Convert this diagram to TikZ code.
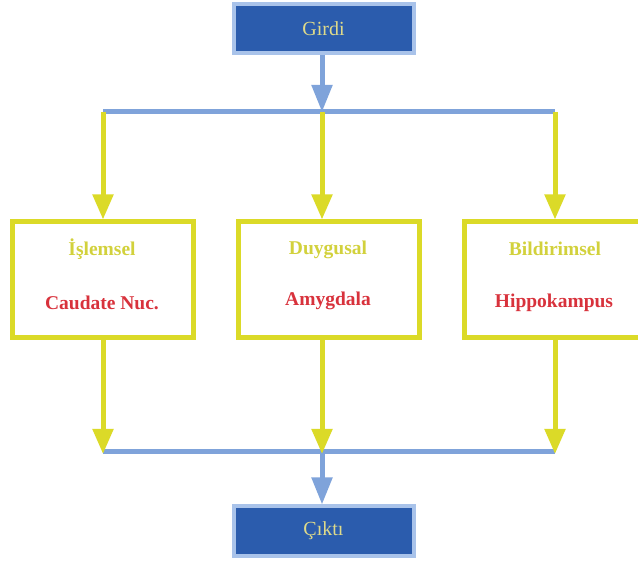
\documentclass[tikz,border=0pt]{standalone}
\usepackage{fontspec}
\setmainfont{Liberation Serif}
\usetikzlibrary{arrows.meta}
\definecolor{boxblue}{HTML}{2B5CAD}
\definecolor{edgeblue}{HTML}{A9C3EA}
\definecolor{lineblue}{HTML}{7FA3DA}
\definecolor{ylw}{HTML}{DBDA28}
\definecolor{ylwtext}{HTML}{D2D13C}
\definecolor{redtext}{HTML}{D8323C}
\definecolor{palettext}{HTML}{DEDA8A}
\begin{document}
\begin{tikzpicture}[x=1pt,y=-1pt,
  iobox/.style={draw=edgeblue,fill=boxblue,line width=4pt,minimum width=180pt,minimum height=49pt,
    inner sep=0pt,text=palettext,font=\fontsize{20}{24}\selectfont},
  region/.style={draw=ylw,line width=5pt,minimum width=181pt,minimum height=116pt,inner sep=0pt},
  kind/.style={text=ylwtext,font=\fontsize{19.5}{23}\selectfont\bfseries},
  area/.style={text=redtext,font=\fontsize{19.5}{23}\selectfont\bfseries},
  bluebar/.style={draw=lineblue,line width=5pt},
  bluearrow/.style={draw=lineblue,line width=5pt,-{Triangle[width=20pt,length=27pt]}},
  ylwarrow/.style={draw=ylw,line width=5pt,-{Triangle[width=20pt,length=25pt]}}]
\useasboundingbox (0,0) rectangle (638,561);
\clip (0,0) rectangle (638,561);

% input and output boxes
\node[iobox] (in) at (323.5,29) {Girdi};
\node[iobox] (out) at (323.5,531) {Çıktı};

% the three memory systems
\node[region] (proc) at (102.5,280) {};
\node[region] (emo) at (329,280) {};
\node[region] (decl) at (555,280) {};

\node[kind] (k1) at (102,249) {İşlemsel};
\node[area] (a1) at (102,303) {Caudate Nuc.};
\node[kind] (k2) at (328,250) {Duygusal};
\node[area] (a2) at (328,301) {Amygdala};
\node[kind] (k3) at (555,249) {Bildirimsel};
\node[area] (a3) at (554,303) {Hippokampus};

% distribution bar
\coordinate (tl) at (103,112);
\coordinate (tm) at (322,112);
\coordinate (tr) at (555,112);
% collection bar
\coordinate (bl) at (103,452);
\coordinate (bm) at (322,452);
\coordinate (br) at (555,452);

\draw[bluebar] (tl) -- (tr);
\draw[bluebar] (bl) -- (br);

\draw[bluearrow] (in.south -| tm) -- (tm);
\draw[bluearrow] (bm) -- (out.north -| bm);

\draw[ylwarrow] (tl) -- (tl |- proc.north);
\draw[ylwarrow] (tm) -- (tm |- emo.north);
\draw[ylwarrow] (tr) -- (tr |- decl.north);

\draw[ylwarrow] (tl |- proc.south) -- ([yshift=-2pt]bl);
\draw[ylwarrow] (tm |- emo.south) -- ([yshift=-2pt]bm);
\draw[ylwarrow] (tr |- decl.south) -- ([yshift=-2pt]br);
\end{tikzpicture}
\end{document}
